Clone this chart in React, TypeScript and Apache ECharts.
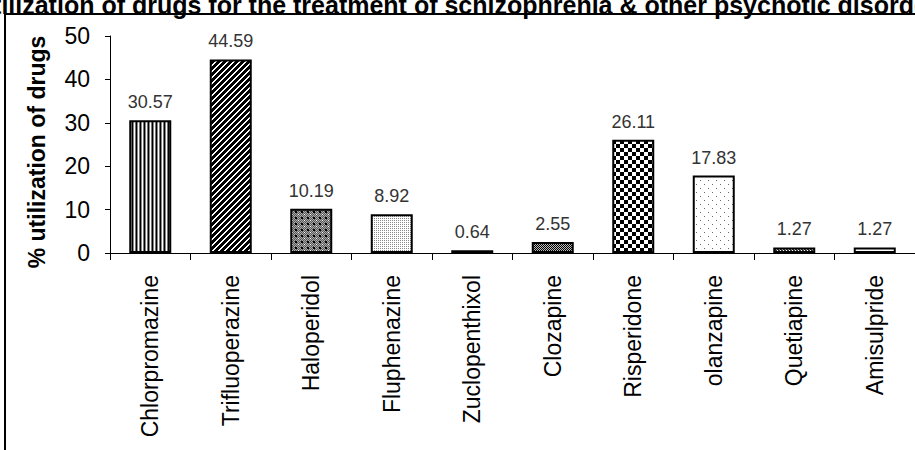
import React, { useEffect, useRef } from "react";
import * as echarts from "echarts";

const titleText =
  "Utilization of drugs for the treatment of schizophrenia & other psychotic disorders";
const yAxisName = "% utilization of drugs";
const categories = [
  "Chlorpromazine",
  "Trifluoperazine",
  "Haloperidol",
  "Fluphenazine",
  "Zuclopenthixol",
  "Clozapine",
  "Risperidone",
  "olanzapine",
  "Quetiapine",
  "Amisulpride",
];
const values = [30.57, 44.59, 10.19, 8.92, 0.64, 2.55, 26.11, 17.83, 1.27, 1.27];
const yMin = 0;
const yMax = 50;
const yInterval = 10;

type Px = (x: number, y: number) => string | null;

function makePattern(w: number, h: number, px: Px) {
  const c = document.createElement("canvas");
  c.width = w;
  c.height = h;
  const ctx = c.getContext("2d")!;
  ctx.fillStyle = "#fff";
  ctx.fillRect(0, 0, w, h);
  for (let y = 0; y < h; y++) {
    for (let x = 0; x < w; x++) {
      const col = px(x, y);
      if (col) {
        ctx.fillStyle = col;
        ctx.fillRect(x, y, 1, 1);
      }
    }
  }
  return { image: c, repeat: "repeat" };
}

function buildPatterns() {
  const vstripe = makePattern(4, 1, (x) => ["#000", "#888", "#fff", "#777"][x]);
  const diag = makePattern(6, 6, (x, y) => ((x + y) % 6 < 2 ? "#fff" : "#000"));
  const halo = makePattern(6, 6, (x, y) => {
    if ((x === 1 || x === 2) && (y === 1 || y === 2)) return "#000";
    if (x === 4 && y === 4) return "#fff";
    return (x + y) % 2 ? "#555" : "#aaa";
  });
  const flu = makePattern(2, 2, (x, y) => (x === 0 && y === 0 ? "#888" : null));
  const zuclo = makePattern(1, 1, () => "#000");
  const cloz = makePattern(2, 2, (x, y) => ((x + y) % 2 === 0 ? "#000" : "#bbb"));
  const risp = makePattern(8, 8, (x, y) =>
    (Math.floor(x / 4) + Math.floor(y / 4)) % 2 === 0 ? "#000" : null
  );
  const olan = makePattern(8, 8, (x, y) =>
    (x === 0 && y === 0) || (x === 4 && y === 4) ? "#666" : null
  );
  const quet = makePattern(3, 2, (x, y) => ((x + y) % 3 === 0 ? "#fff" : "#333"));
  const ami = "#ffffff";
  return [vstripe, diag, halo, flu, zuclo, cloz, risp, olan, quet, ami];
}

export default function App() {
  const ref = useRef<HTMLDivElement>(null);

  useEffect(() => {
    if (!ref.current) return;
    const chart = echarts.init(ref.current, undefined, { renderer: "svg" });
    const patterns = buildPatterns();
    const font = '"Liberation Sans", Arial, sans-serif';

    chart.setOption({
      animation: false,
      backgroundColor: "#fff",
      graphic: [
        {
          type: "rect",
          silent: true,
          z: 0,
          shape: { x: 5, y: 14, width: 2000, height: 2000 },
          style: { fill: "none", stroke: "#000", lineWidth: 2 },
        },
        {
          type: "text",
          silent: true,
          x: -25,
          y: -8,
          style: {
            text: titleText,
            font: 'bold 25px "Liberation Sans", Arial, sans-serif',
            fill: "#000",
            textAlign: "left",
            textVerticalAlign: "top",
            align: "left",
            verticalAlign: "top",
          },
        },
        {
          type: "text",
          silent: true,
          x: 37,
          y: 152,
          rotation: Math.PI / 2,
          style: {
            text: yAxisName,
            font: 'bold 23px "Liberation Sans", Arial, sans-serif',
            fill: "#000",
            textAlign: "center",
            textVerticalAlign: "middle",
            align: "center",
            verticalAlign: "middle",
          },
        },
      ],
      grid: { left: 110, top: 36, width: 806, height: 217, containLabel: false },
      xAxis: {
        type: "category",
        data: categories,
        axisLine: { lineStyle: { color: "#000", width: 1 } },
        axisTick: { show: true, length: 7, lineStyle: { color: "#000" } },
        axisLabel: {
          rotate: 90,
          margin: 22,
          interval: 0,
          color: "#000",
          fontSize: 23,
          fontFamily: font,
        },
      },
      yAxis: {
        type: "value",
        min: yMin,
        max: yMax,
        interval: yInterval,
        axisLine: { show: true, lineStyle: { color: "#000", width: 1 } },
        axisTick: { show: true, length: 5, lineStyle: { color: "#000" } },
        splitLine: { show: false },
        axisLabel: {
          margin: 20,
          color: "#000",
          fontSize: 23,
          fontFamily: font,
        },
      },
      series: [
        {
          type: "bar",
          barWidth: 42,
          data: values.map((v, i) => ({
            value: v,
            itemStyle: { color: patterns[i] },
          })),
          itemStyle: { borderColor: "#000", borderWidth: 2 },
          label: {
            show: true,
            position: "top",
            distance: 9,
            color: "#333",
            fontSize: 18,
            fontFamily: font,
            formatter: (p: any) => Number(p.value).toFixed(2),
          },
        },
      ],
    });

    return () => chart.dispose();
  }, []);

  return (
    <div
      ref={ref}
      style={{ position: "fixed", left: 0, top: 0, width: 915, height: 450 }}
    />
  );
}
